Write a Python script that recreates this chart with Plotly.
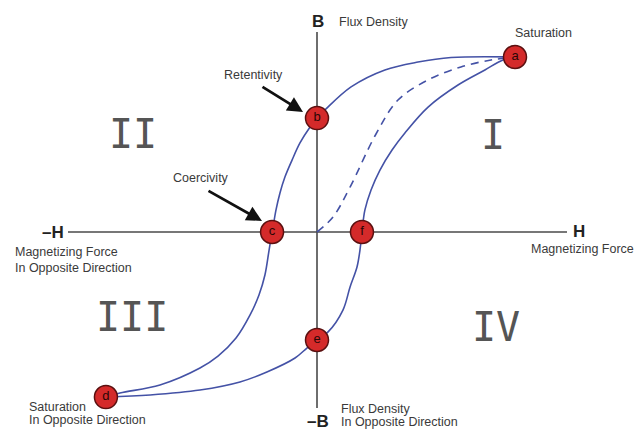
import plotly.graph_objects as go

# ---- data (H: magnetizing force, B: flux density; arbitrary units, saturation = 10) ----
upper_H = [10.0, 6.77, 5.10, 3.43, 1.72, 0.40, 0.0, -0.35, -0.86, -1.26, -1.62, -1.87, -2.07, -2.22, -2.27,
           -2.42, -2.63, -2.93, -3.38, -4.09, -5.00, -5.91, -7.93, -9.95, -10.66]
upper_B = [10.0, 9.97, 9.71, 9.26, 8.29, 6.97, 6.51, 6.00, 5.09, 4.11, 3.14, 2.23, 1.26, 0.29, 0.0,
           -1.03, -2.46, -3.60, -4.74, -6.06, -7.09, -7.77, -8.74, -9.20, -9.43]

lower_H = [-10.66, -8.43, -5.91, -3.89, -2.53, -1.11, -0.51, 0.0, 0.56, 1.31, 1.67, 2.02, 2.17, 2.27,
           2.42, 2.73, 3.18, 3.79, 4.44, 5.61, 7.12, 8.48, 9.39, 10.0]
lower_B = [-9.43, -9.31, -9.03, -8.57, -8.00, -7.20, -6.63, -6.17, -5.71, -4.46, -3.14, -2.00, -1.03, 0.0,
           1.26, 2.40, 3.54, 4.69, 5.66, 7.14, 8.40, 9.26, 9.83, 10.0]

initial_H = [0.0, 0.81, 1.67, 2.98, 4.09, 5.61, 7.27, 8.79, 10.0]
initial_B = [0.0, 0.86, 2.57, 5.60, 7.54, 8.69, 9.43, 9.83, 10.0]

point_labels = ["a", "b", "c", "d", "e", "f"]
point_H = [10.0, 0.0, -2.27, -10.66, 0.0, 2.27]
point_B = [10.0, 6.51, 0.0, -9.43, -6.17, 0.0]

# ---- layout helpers (pixel -> axis units, for annotation placement only) ----
W, HGT = 637, 430
X0, Y0, SX, SY = 317, 232, 19.8, 17.5
def px(x):
    return (x - X0) / SX
def py(y):
    return (Y0 - y) / SY

CURVE = "#4452a6"
TXT = "#3a3a3a"
AX = "#4a4a4a"
LBL_FONT = dict(family="Liberation Sans, Arial", size=12.5, color=TXT)
BOLD_FONT = dict(family="Liberation Sans, Arial", size=17, color="#222222")
ROMAN_FONT = dict(family="DejaVu Sans Mono", size=40, color="#555555")

fig = go.Figure()

fig.add_trace(go.Scatter(x=upper_H, y=upper_B, mode="lines", line=dict(color=CURVE, width=1.6, shape="spline"),
                         hoverinfo="skip", showlegend=False))
fig.add_trace(go.Scatter(x=lower_H, y=lower_B, mode="lines", line=dict(color=CURVE, width=1.6, shape="spline"),
                         hoverinfo="skip", showlegend=False))
fig.add_trace(go.Scatter(x=initial_H, y=initial_B, mode="lines",
                         line=dict(color=CURVE, width=1.6, shape="spline", dash="8px,6px"),
                         hoverinfo="skip", showlegend=False))

# axes lines
fig.add_shape(type="line", x0=px(68), x1=px(567), y0=0, y1=0, line=dict(color=AX, width=1.6), layer="below")
fig.add_shape(type="line", x0=0, x1=0, y0=py(32), y1=py(408), line=dict(color=AX, width=1.6), layer="below")

fig.add_trace(go.Scatter(x=point_H, y=point_B, mode="markers+text", text=point_labels,
                         textposition="middle center",
                         textfont=dict(family="Liberation Sans, Arial", size=13, color="#2a0606"),
                         marker=dict(size=23, color="#d42a2a", line=dict(color="#5a1010", width=1.5)),
                         hoverinfo="skip", showlegend=False))

ann = []
def label(text, x, y, font, xanchor="center"):
    ann.append(dict(text=text, x=px(x), y=py(y), xref="x", yref="y", showarrow=False,
                    font=font, xanchor=xanchor, yanchor="middle"))

label("<b>B</b>", 318, 21, BOLD_FONT)
label("Flux Density", 337, 22, LBL_FONT, "left")
label("<b>H</b>", 579, 231, BOLD_FONT)
label("Magnetizing Force", 636, 249, LBL_FONT, "right")
label("<b>–H</b>", 53, 232, BOLD_FONT)
label("Magnetizing Force", 13, 252, LBL_FONT, "left")
label("In Opposite Direction", 13, 268, LBL_FONT, "left")
label("<b>–B</b>", 318, 421, BOLD_FONT)
label("Flux Density", 339, 409, LBL_FONT, "left")
label("In Opposite Direction", 339, 422, LBL_FONT, "left")
label("Saturation", 543, 33, LBL_FONT)
label("Saturation", 27, 407, LBL_FONT, "left")
label("In Opposite Direction", 27, 420, LBL_FONT, "left")
label("Retentivity", 253, 75, LBL_FONT)
label("Coercivity", 201, 178, LBL_FONT)

label("II", 133, 134, ROMAN_FONT)
label("I", 493, 135, ROMAN_FONT)
label("III", 132, 317, ROMAN_FONT)
label("IV", 496, 327, ROMAN_FONT)

# arrows
ann.append(dict(text="", x=px(303), y=py(112), xref="x", yref="y", ax=-42, ay=-26,
                showarrow=True, arrowhead=2, arrowsize=1.1, arrowwidth=2.8, arrowcolor="#111111"))
ann.append(dict(text="", x=px(262), y=py(221), xref="x", yref="y", ax=-55, ay=-31,
                showarrow=True, arrowhead=2, arrowsize=1.1, arrowwidth=2.8, arrowcolor="#111111"))

fig.update_layout(
    width=W, height=HGT, margin=dict(l=0, r=0, t=0, b=0),
    paper_bgcolor="white", plot_bgcolor="white",
    xaxis=dict(range=[px(0), px(W)], visible=False, fixedrange=True),
    yaxis=dict(range=[py(HGT), py(0)], visible=False, fixedrange=True),
    annotations=ann,
)

fig.write_html("out.html", config={"displayModeBar": False},
               post_script="document.body.style.margin='0';document.body.style.overflow='hidden';")
